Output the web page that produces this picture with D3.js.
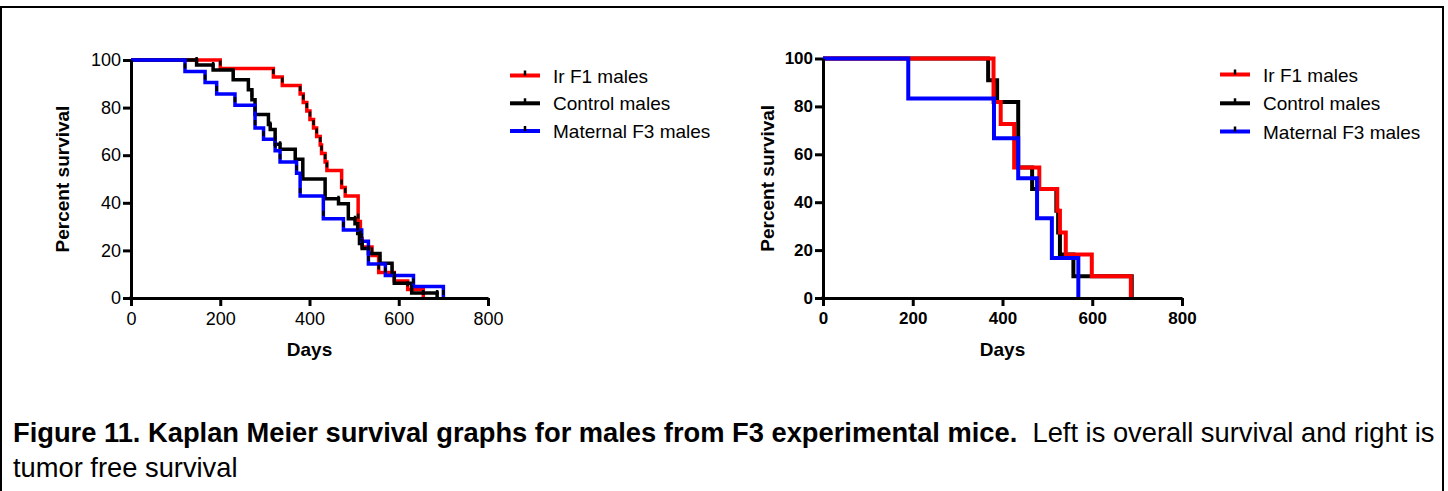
<!DOCTYPE html>
<html>
<head>
<meta charset="utf-8">
<script src="https://cdn.jsdelivr.net/npm/d3@7"></script>
<style>
body { margin: 0; background: #fff; }
svg { display: block; font-family: "Liberation Sans", Arial, sans-serif; }
</style>
</head>
<body>
<div id="chart"></div>
<script>
// Kaplan Meier steps: [day, percent survival]
let overallIrF1 = [[0,100],[200,96.4],[319,92.9],[339,89.3],[379,85.7],[386,82.1],[394,78.6],[401,75],[409,71.4],[416,67.9],[424,64.3],[427,60.7],[435,57.1],[439,53.6],[472,46.4],[480,42.9],[509,32.1],[514,25],[518,21.4],[540,17.9],[555,10.7],[590,7.1],[620,3.6],[655,0]];
let overallControl = [[0,100],[147,97.9],[184,95.8],[229,91.7],[263,87.5],[271,83.3],[278,77.1],[308,72.9],[312,70.8],[323,64.6],[334,62.5],[368,58.3],[385,50],[435,41.7],[465,39.6],[487,33.3],[502,31.2],[508,27.1],[512,22.9],[518,20.8],[532,18.7],[558,14.6],[585,10.4],[590,6.2],[629,2.1],[686,0]];
let overallMaternal = [[0,100],[121,95.2],[166,90.5],[192,85.7],[233,81],[278,71.4],[297,66.7],[323,61.9],[334,57.1],[371,52.4],[379,42.9],[431,33.3],[476,28.6],[517,23.8],[532,14.3],[570,9.5],[633,4.8],[700,0]];

let tumorIrF1 = [[0,100],[380,81.8],[396,72.7],[426,54.5],[482,45.5],[522,36.4],[528,27.3],[541,18.2],[599,9.1],[686,0]];
let tumorControl = [[0,100],[368,90.9],[388,81.8],[435,54.5],[466,45.5],[520,36.4],[524,27.3],[528,18.2],[558,9.1],[688,0]];
let tumorMaternal = [[0,100],[190,83.3],[381,66.7],[435,50],[477,33.3],[510,16.7],[569,0]];

let seriesNames = ["Ir F1 males", "Control males", "Maternal F3 males"];
let seriesColors = ["#ff0000", "#000000", "#0000ff"];
let xTicks = [0, 200, 400, 600, 800];
let yTicks = [0, 20, 40, 60, 80, 100];

let svg = d3.select("#chart").append("svg")
    .attr("width", 1448)
    .attr("height", 491);

svg.append("rect").attr("width", 1448).attr("height", 491).attr("fill", "#fff");

// frame round the figure
svg.append("rect")
    .attr("x", 1).attr("y", 7)
    .attr("width", 1442).attr("height", 500)
    .attr("fill", "none").attr("stroke", "#000").attr("stroke-width", 2);

function drawPanel(cfg, series) {
    let x = d3.scaleLinear().domain([0, 800]).range([cfg.left, cfg.right]);
    let y = d3.scaleLinear().domain([0, 100]).range([cfg.bottom, cfg.top]);
    let g = svg.append("g");

    let line = d3.line()
        .x(d => x(d[0]))
        .y(d => y(d[1]))
        .curve(d3.curveStepAfter);

    // draw order bottom to top
    cfg.order.forEach(i => {
        g.append("path")
            .attr("d", line(series[i]))
            .attr("fill", "none")
            .attr("stroke", seriesColors[i])
            .attr("stroke-width", cfg.lineW)
            .attr("stroke-linejoin", "miter");
    });

    if (cfg.marks) {
        cfg.order.forEach(i => {
            g.selectAll(null)
                .data(series[i].slice(1))
                .enter().append("line")
                .attr("x1", d => x(d[0])).attr("x2", d => x(d[0]))
                .attr("y1", d => y(d[1]) - 8).attr("y2", d => y(d[1]) - 3)
                .attr("stroke", "#000").attr("stroke-width", 2.5);
        });
    }

    let yAxis = g.append("g")
        .attr("transform", "translate(" + cfg.left + ",0)")
        .call(d3.axisLeft(y).tickValues(yTicks).tickSize(8).tickSizeOuter(0).tickPadding(2));
    let xAxis = g.append("g")
        .attr("transform", "translate(0," + cfg.bottom + ")")
        .call(d3.axisBottom(x).tickValues(xTicks).tickSize(8).tickSizeOuter(0).tickPadding(6));

    [yAxis, xAxis].forEach(a => {
        a.select(".domain").attr("stroke-width", 3);
        a.selectAll(".tick line").attr("stroke-width", 3);
        a.selectAll(".tick text")
            .attr("fill", "#000")
            .style("font-family", "Liberation Sans, Arial, sans-serif")
            .style("font-size", cfg.tickSize + "px")
            .style("font-weight", cfg.tickBold ? "bold" : "normal");
    });
    // square the corner where the axes meet
    g.append("rect")
        .attr("x", cfg.left - 1.5).attr("y", cfg.bottom - 1.5)
        .attr("width", 3).attr("height", 3).attr("fill", "#000");

    g.append("text")
        .attr("transform", "translate(" + cfg.yTitleX + "," + ((cfg.top + cfg.bottom) / 2) + ") rotate(-90)")
        .attr("text-anchor", "middle")
        .style("font-size", "19px").style("font-weight", "bold")
        .text("Percent survival");

    g.append("text")
        .attr("x", (cfg.left + cfg.right) / 2).attr("y", 356)
        .attr("text-anchor", "middle")
        .style("font-size", "19px").style("font-weight", "bold")
        .text("Days");

    // legend
    seriesNames.forEach((name, i) => {
        let ly = cfg.legendY[i];
        g.append("line")
            .attr("x1", cfg.legendX).attr("x2", cfg.legendX + 30)
            .attr("y1", ly).attr("y2", ly)
            .attr("stroke", seriesColors[i]).attr("stroke-width", 4);
        g.append("line")
            .attr("x1", cfg.legendX + 15).attr("x2", cfg.legendX + 15)
            .attr("y1", ly - 5).attr("y2", ly)
            .attr("stroke", "#000").attr("stroke-width", 2.5);
        g.append("text")
            .attr("x", cfg.legendX + 43).attr("y", ly + 7)
            .style("font-size", "19px")
            .text(name);
    });
}

drawPanel({
    left: 131, right: 488, top: 60, bottom: 298,
    lineW: 3.5, marks: true, tickBold: false, tickSize: 18,
    order: [0, 1, 2], yTitleX: 69,
    legendX: 510, legendY: [75.5, 103.3, 131]
}, [overallIrF1, overallControl, overallMaternal]);

drawPanel({
    left: 823, right: 1182, top: 58.5, bottom: 298,
    lineW: 4, marks: false, tickBold: true, tickSize: 17,
    order: [1, 0, 2], yTitleX: 774,
    legendX: 1220, legendY: [74.5, 103.3, 131.5]
}, [tumorIrF1, tumorControl, tumorMaternal]);

// caption
let cap = svg.append("text")
    .attr("x", 13).attr("y", 442)
    .style("font-size", "27.3px");
cap.append("tspan").style("font-weight", "bold")
    .text("Figure 11. Kaplan Meier survival graphs for males from F3 experimental mice.");
cap.append("tspan").text("\u00a0 Left is overall survival and right is");

svg.append("text")
    .attr("x", 13).attr("y", 477)
    .style("font-size", "27.3px")
    .text("tumor free survival");
</script>
</body>
</html>
